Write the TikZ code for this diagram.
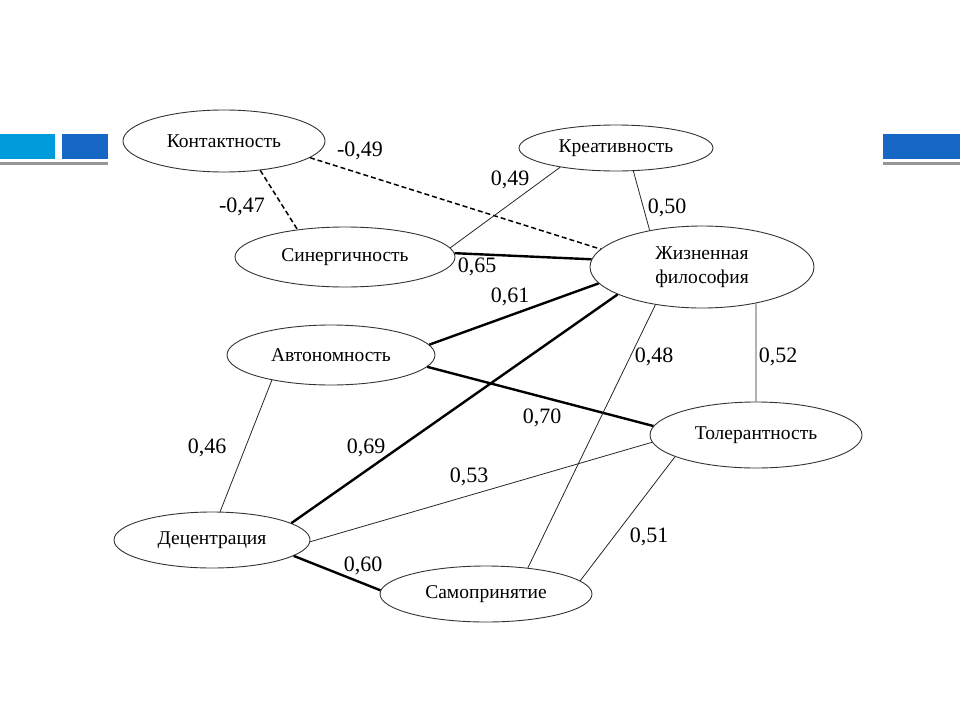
\documentclass[tikz,border=0pt]{standalone}
\usepackage{fontspec}
\setmainfont{Liberation Serif}
\usetikzlibrary{shapes}
\definecolor{barlight}{RGB}{0,155,219}
\definecolor{bardark}{RGB}{22,104,196}
\definecolor{bargray}{RGB}{150,150,150}

\tikzset{
  factor/.style={draw=black!80, ellipse, line width=0.9pt, inner sep=0pt, align=center,
    font=\fontsize{19.5}{24}\selectfont},
  weak/.style={line width=0.8pt, black!85},
  strong/.style={line width=2.4pt},
  neg/.style={line width=1.5pt, dash pattern=on 5pt off 3pt},
  coef/.style={inner sep=1pt, font=\fontsize{22}{24}\selectfont}
}

\begin{document}
\begin{tikzpicture}[x=1pt,y=-1pt]
\useasboundingbox (0,0) rectangle (960,720);
% slide bars
\fill[barlight] (0,134) rectangle (55,159);
\fill[bardark] (62,134) rectangle (108,159);
\fill[bargray] (0,162) rectangle (108,165);
\fill[bardark] (883,134) rectangle (960,159);
\fill[bargray] (883,162) rectangle (960,165);

\draw[]
(224,141) node[factor, minimum width=202, minimum height=62] (kont) {Контактность}
(616,148) node[factor, minimum width=194, minimum height=46] (kreat) {Креативность}
(345,257) node[factor, minimum width=220, minimum height=60] (sin) {Синергичность}
(702,267) node[factor, minimum width=224, minimum height=82] (zhizn) {Жизненная\\философия}
(331,355) node[factor, minimum width=208, minimum height=60] (avt) {Автономность}
(756,435) node[factor, minimum width=212, minimum height=66] (tol) {Толерантность}
(212,540) node[factor, minimum width=196, minimum height=56] (dec) {Децентрация}
(486,594) node[factor, minimum width=212, minimum height=56] (samo) {Самопринятие};

% links
\draw[neg] (kont.-39) -- (sin.150);
\draw[neg] (kont.-11) -- (zhizn.170);
\draw[weak] (kreat.-161) -- (sin.5);
\draw[weak] (kreat.-53) -- (zhizn.145);
\draw[strong] (sin.2) -- (zhizn.176);
\draw[strong] (avt.6) -- (zhizn.-171);
\draw[strong] (dec.12) -- (zhizn.-162);
\draw[strong] (avt.-7) -- (tol.175);
\draw[weak] (zhizn.-141) -- (samo.32);
\draw[weak] (zhizn.-34) -- (tol.90);
\draw[weak] (avt.-157) -- (dec.74);
\draw[weak] (dec.-1) -- (tol.-176);
\draw[strong] (dec.-11) -- (samo.178);
\draw[weak] (tol.-165) -- (samo.8);

% coefficients
\draw[]
(360,151) node[coef] (c1) {-0,49}
(242,207) node[coef] (c2) {-0,47}
(510,180) node[coef] (c3) {0,49}
(667,208) node[coef] (c4) {0,50}
(477,267) node[coef] (c5) {0,65}
(510,297) node[coef] (c6) {0,61}
(366,448) node[coef] (c7) {0,69}
(542,418) node[coef] (c8) {0,70}
(654,357) node[coef] (c9) {0,48}
(778,357) node[coef] (c10) {0,52}
(207,448) node[coef] (c11) {0,46}
(469,477) node[coef] (c12) {0,53}
(363,566) node[coef] (c13) {0,60}
(649,537) node[coef] (c14) {0,51};
\end{tikzpicture}
\end{document}
